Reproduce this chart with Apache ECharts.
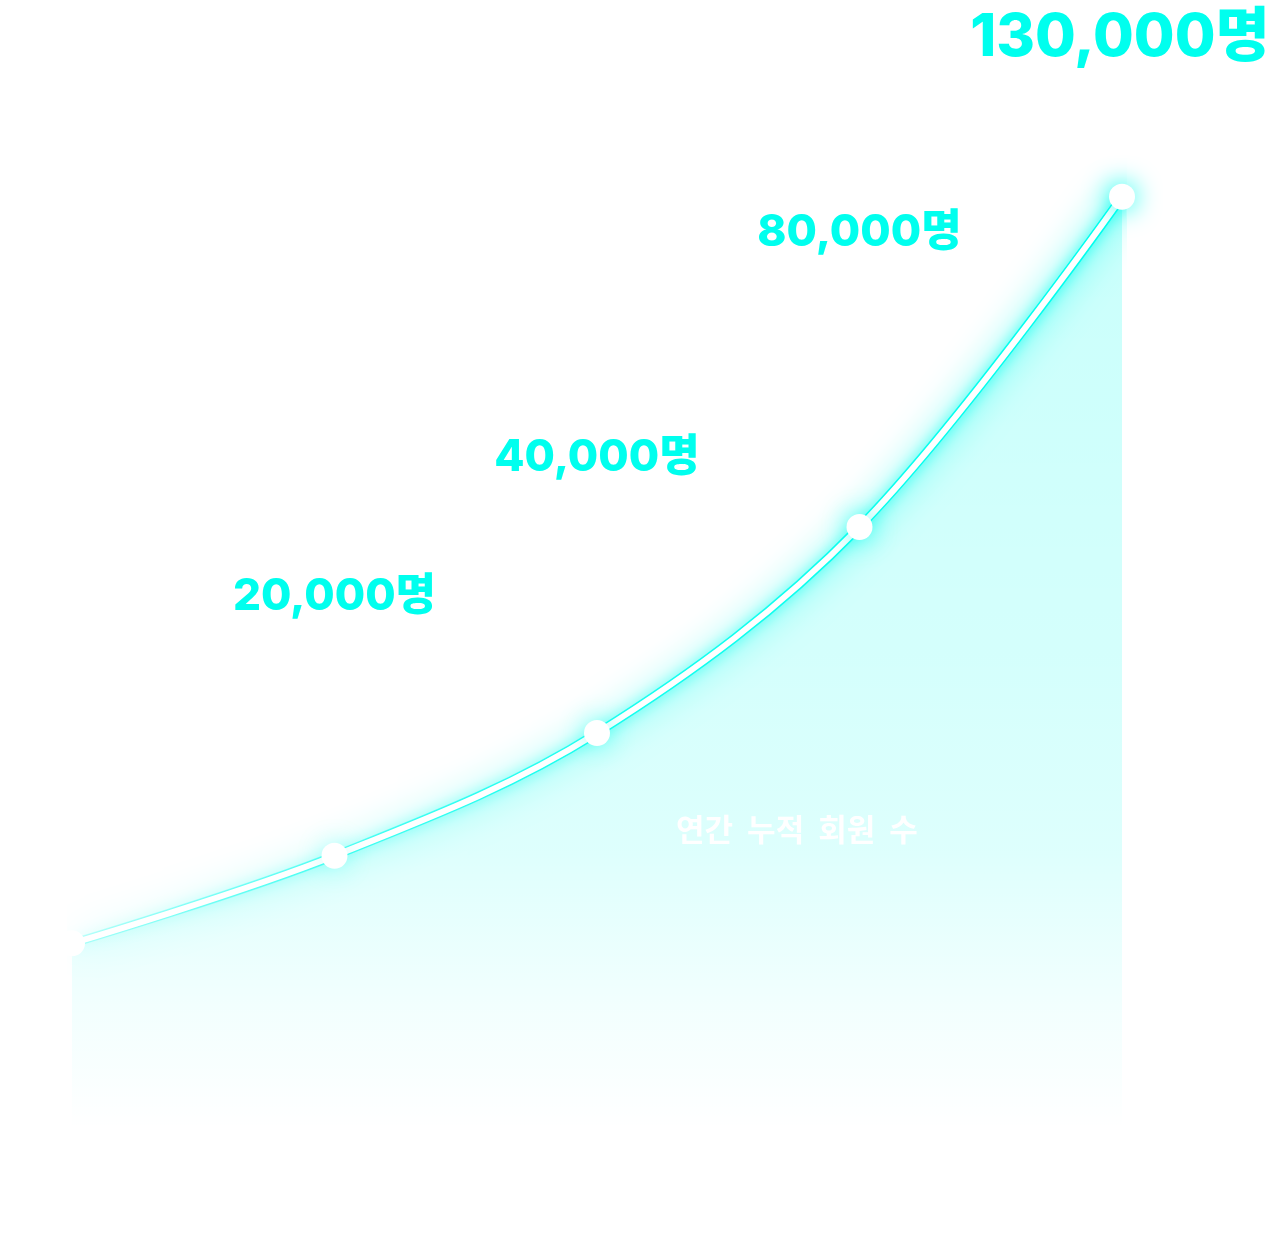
<!DOCTYPE html>
<html>
<head>
<meta charset="utf-8">
<style>
  html, body { margin: 0; padding: 0; background: #ffffff; }
  #chart { width: 1280px; height: 1233px; }
</style>
<script src="https://cdn.jsdelivr.net/npm/echarts@6/dist/echarts.min.js"></script>
</head>
<body>
<div id="chart"></div>
<script>
// ---- data ----
const categories = ['1', '2', '3', '4', '5'];
const memberValues = [26000, 38200, 55300, 84000, 130000];
const labelTexts = ['', '20,000명', '40,000명', '80,000명', '130,000명'];
const seriesName = '연간 누적 회원 수';

// ---- style config (kept apart from data) ----
const CYAN = '#00ffee';
const labelOffsets = [[0, 0], [0, -259], [0, -275], [0, -294], [-2, -159]];
const labelSizes = [0, 44, 44, 44, 59];
const dotGlow = [0, 0.25, 0.45, 0.7, 1];

const chart = echarts.init(document.getElementById('chart'), null, { renderer: 'canvas' });

const lineData = memberValues.map((v, i) => ({
  value: v,
  itemStyle: {
    color: '#ffffff',
    shadowBlur: 26,
    shadowColor: 'rgba(0,255,238,' + dotGlow[i] + ')'
  },
  label: {
    show: labelTexts[i] !== '',
    formatter: labelTexts[i],
    position: 'inside',
    offset: labelOffsets[i],
    fontSize: labelSizes[i],
    fontWeight: 800,
    fontFamily: 'Inter, "Noto Sans CJK KR", sans-serif',
    color: CYAN,
    align: 'center',
    verticalAlign: 'middle'
  }
}));

const option = {
  backgroundColor: '#ffffff',
  animation: false,
  grid: { left: 72, right: 158, top: 125, bottom: 103 },
  xAxis: {
    type: 'category',
    data: categories,
    boundaryGap: false,
    show: false
  },
  yAxis: {
    type: 'value',
    min: 0,
    max: 140000,
    show: false,
    splitLine: { show: false }
  },
  series: [
    {
      name: seriesName + ' area',
      type: 'line',
      data: memberValues,
      smooth: 0.35,
      symbol: 'none',
      lineStyle: { width: 0 },
      areaStyle: {
        color: new echarts.graphic.LinearGradient(0, 0, 0, 1, [
          { offset: 0, color: 'rgba(0,255,238,0.30)' },
          { offset: 0.5, color: 'rgba(0,255,238,0.24)' },
          { offset: 0.7, color: 'rgba(0,255,238,0.19)' },
          { offset: 0.86, color: 'rgba(0,255,238,0.08)' },
          { offset: 1, color: 'rgba(0,255,238,0)' }
        ])
      },
      silent: true
    },
    {
      name: seriesName + ' glow',
      type: 'line',
      data: memberValues,
      smooth: 0.35,
      symbol: 'none',
      lineStyle: {
        width: 9,
        color: new echarts.graphic.LinearGradient(0, 0, 1, 0, [
          { offset: 0, color: 'rgba(0,255,238,0.15)' },
          { offset: 0.4, color: 'rgba(0,255,238,0.6)' },
          { offset: 1, color: 'rgba(0,255,238,1)' }
        ]),
        shadowBlur: 36,
        shadowColor: 'rgba(0,255,238,1)'
      },
      silent: true
    },
    {
      name: seriesName + ' glow2',
      type: 'line',
      data: memberValues,
      smooth: 0.35,
      symbol: 'none',
      lineStyle: {
        width: 8,
        color: new echarts.graphic.LinearGradient(0, 0, 1, 0, [
          { offset: 0, color: 'rgba(0,255,238,0.1)' },
          { offset: 0.4, color: 'rgba(0,255,238,0.5)' },
          { offset: 1, color: 'rgba(0,255,238,0.9)' }
        ]),
        shadowBlur: 14,
        shadowColor: 'rgba(0,255,238,1)'
      },
      silent: true
    },
    {
      name: seriesName,
      type: 'line',
      data: lineData,
      smooth: 0.35,
      symbol: 'circle',
      symbolSize: 26,
      lineStyle: { width: 6, color: '#ffffff' },
      itemStyle: { color: '#ffffff' },
      z: 5
    }
  ],
  graphic: [
    {
      type: 'text',
      left: 676,
      top: 814,
      z: 10,
      style: {
        text: '연간  누적  회원  수',
        fill: '#ffffff',
        font: '600 31px "Noto Sans CJK KR", sans-serif'
      }
    }
  ]
};

chart.setOption(option);
</script>
</body>
</html>
